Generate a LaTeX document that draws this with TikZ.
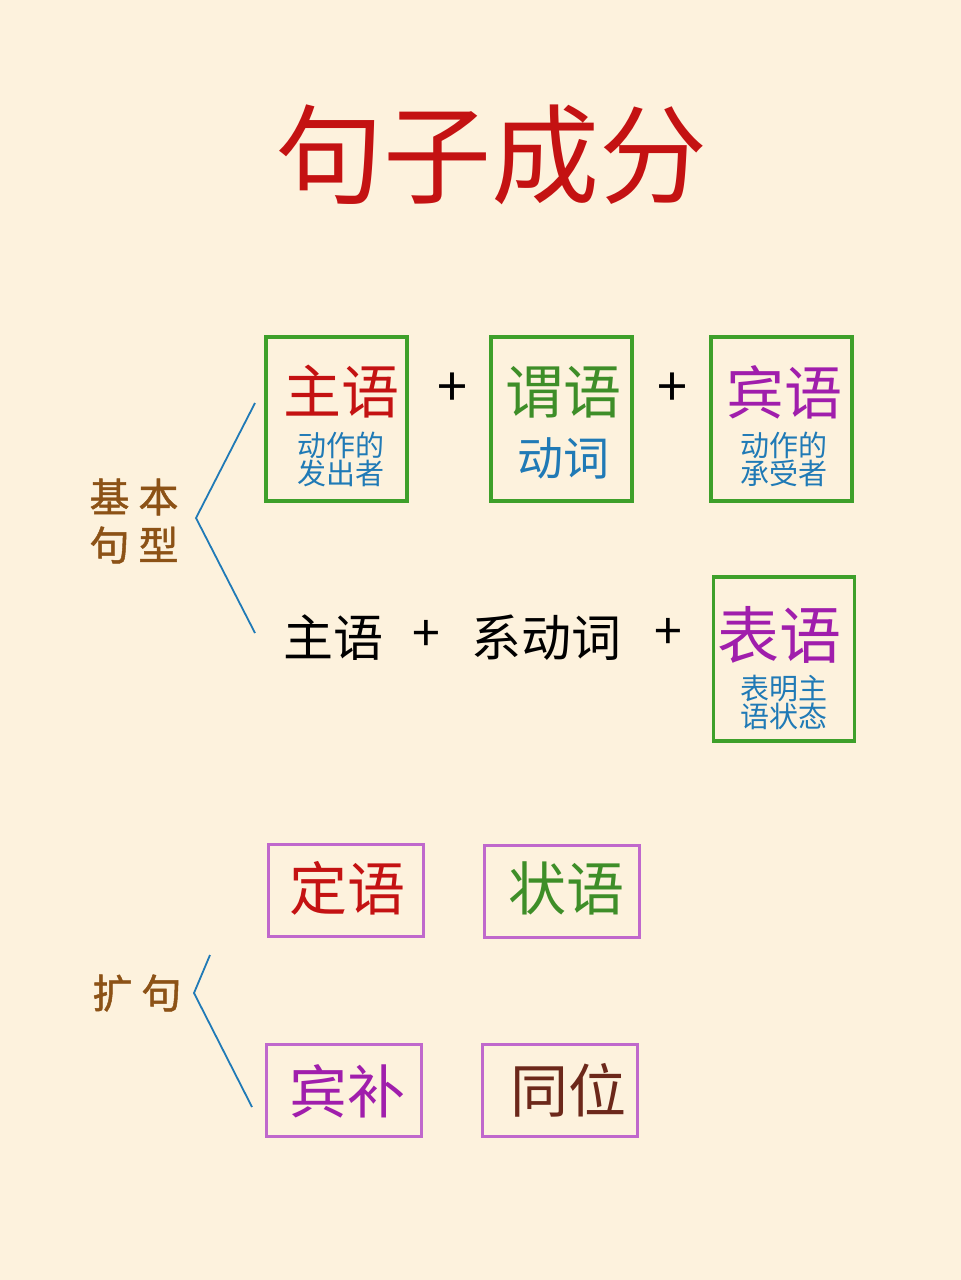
\documentclass[tikz,border=0pt]{standalone}
\usepackage{fontspec}
\setmainfont{Noto Sans CJK SC}
\newfontfamily\sidefont[FakeBold=1.2]{Noto Sans CJK SC}
\usetikzlibrary{positioning}
\definecolor{paper}{RGB}{253,242,221}
\definecolor{titlered}{RGB}{196,18,18}
\definecolor{wordbrown}{RGB}{140,82,22}
\definecolor{subblue}{RGB}{32,122,182}
\definecolor{boxgreen}{RGB}{62,160,42}
\definecolor{wordgreen}{RGB}{62,142,40}
\definecolor{wordpurple}{RGB}{160,30,172}
\definecolor{boxpurple}{RGB}{192,104,204}
\definecolor{darkbrown}{RGB}{108,40,26}
\tikzset
{
    corebox/.style  = {rectangle, draw=boxgreen, line width=1.6pt, minimum width=70.5pt, minimum height=82pt, inner sep=0pt},
    extbox/.style   = {rectangle, draw=boxpurple, line width=1.5pt, minimum width=77.5pt, minimum height=46pt, inner sep=0pt},
    bigword/.style  = {font=\fontsize{29}{29}\selectfont, inner sep=0pt},
    subword/.style  = {font=\fontsize{14.5}{14}\selectfont, text=subblue, align=center, inner sep=0pt},
    plainword/.style= {font=\fontsize{25}{25}\selectfont, text=black, inner sep=0pt},
    sidelabel/.style= {font=\sidefont\fontsize{20}{24}\selectfont, text=wordbrown, align=center, inner sep=0pt},
    bracket/.style  = {draw=subblue, line width=0.9pt}
}

\begin{document}
\begin{tikzpicture}[x=0.5pt, y=-0.5pt]

	 \fill[paper] (0, 0) rectangle (961, 1280);
	 \useasboundingbox (0, 0) rectangle (961, 1280);

	 \node (title) [font=\fontsize{54}{54}\selectfont, text=titlered, inner sep=0pt] at (491, 155) {句子成分};

	 % basic patterns
	 \node (basic)  [sidelabel] at (134, 521) {基 本\\句 型};

	 \node (subj)   [corebox] at (336.5, 419) {};
	 \node (subjw)  [bigword, text=titlered]   at (341, 392) {主语};
	 \node (subjs)  [subword]                  at (341, 459) {动作的\\发出者};
	 \node (plusa)  [plainword, font=\fontsize{27}{27}\selectfont] at (452, 390) {+};

	 \node (pred)   [corebox] at (561.5, 419) {};
	 \node (predw)  [bigword, text=wordgreen]  at (563, 392) {谓语};
	 \node (preds)  [bigword, text=subblue, font=\fontsize{23}{23}\selectfont] at (563, 458) {动词};
	 \node (plusb)  [plainword, font=\fontsize{27}{27}\selectfont] at (672, 390) {+};

	 \node (obj)    [corebox] at (781.5, 419) {};
	 \node (objw)   [bigword, text=wordpurple] at (784, 392) {宾语};
	 \node (objs)   [subword]                  at (784, 459) {动作的\\承受者};

	 \node (lsubj)  [plainword] at (333, 638) {主语};
	 \node (plusc)  [plainword] at (426, 636) {+};
	 \node (link)   [plainword] at (546, 638) {系动词};
	 \node (plusd)  [plainword] at (668, 634) {+};

	 \node (pcomp)  [corebox] at (784, 659) {};
	 \node (pcompw) [bigword, text=wordpurple, font=\fontsize{31}{31}\selectfont] at (779, 635) {表语};
	 \node (pcomps) [subword]                  at (784, 702) {表明主\\语状态};

	 % expansion
	 \node (expand) [sidelabel] at (137, 993) {扩 句};

	 \node (attr)   [extbox] at (345.5, 890) {};
	 \node (attrw)  [bigword, text=titlered]   at (347, 888) {定语};
	 \node (advb)   [extbox] at (561.5, 891) {};
	 \node (advbw)  [bigword, text=wordgreen]  at (566, 888) {状语};
	 \node (ocomp)  [extbox] at (343.5, 1090) {};
	 \node (ocompw) [bigword, text=wordpurple] at (347, 1091) {宾补};
	 \node (appos)  [extbox] at (559.5, 1090) {};
	 \node (apposw) [bigword, text=darkbrown]  at (568, 1090) {同位};

	 \coordinate (btop) at (255, 403);
	 \coordinate (btip) at (196, 518);
	 \coordinate (bbot) at (255, 633);
	 \coordinate (etop) at (210, 955);
	 \coordinate (etip) at (194, 993);
	 \coordinate (ebot) at (252, 1107);

	 \draw[bracket] (btop) -- (btip) -- (bbot);
	 \draw[bracket] (etop) -- (etip) -- (ebot);
\end{tikzpicture}
\end{document}
